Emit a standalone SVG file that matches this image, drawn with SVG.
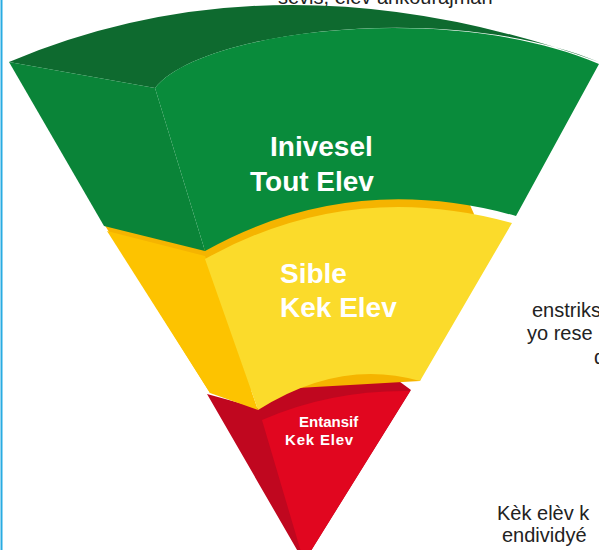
<svg xmlns="http://www.w3.org/2000/svg" width="599" height="550" viewBox="0 0 599 550">
<style>
.lbl{font-family:"Liberation Sans",Arial,sans-serif;font-weight:bold;fill:#ffffff}
.side{font-family:"Liberation Sans",Arial,sans-serif;font-size:20px;fill:#222222}
</style>
<rect width="599" height="550" fill="#ffffff"/>
<line x1="1.5" y1="0" x2="1.5" y2="550" stroke="#29abe2" stroke-width="2"/>
<text class="side" x="278" y="4" font-size="22">sèvis, elèv ankourajman</text>
<g id="tier3">
<path d="M207,394 L258,408 Q330,358 392,376 L411,390 L304,562 Z" fill="#c0071f"/>
<path d="M262,420 Q330,390 410,391 L304,562 Z" fill="#e1061f"/>
<text class="lbl" x="299" y="427" font-size="15">Entansif</text>
<text class="lbl" x="285" y="445" font-size="15" letter-spacing="0.8">Kek Elev</text>
</g>
<g id="tier2">
<path d="M104,224 L205,248 Q350,166 470,205 L474,214 L420,381 L210,393 Z" fill="#f5b400"/>
<path d="M107,231 L205,256 L258,410 L210,393 Z" fill="#fdc300"/>
<path d="M205,259 Q350,178 512,223 L420,381 Q340,358 258,410 Z" fill="#fbdb2b"/>
<text class="lbl" x="280" y="283" font-size="28">Sible</text>
<text class="lbl" x="280" y="317" font-size="28">Kek Elev</text>
</g>
<g id="tier1">
<path d="M9,62 Q280,-52 599,62 C450,0 200,30 155,88 Z" fill="#0e6a2f"/>
<path d="M9,62 L155,88 L205,251 L104,226 Z" fill="#0a8438"/>
<path d="M155,88 C200,30 450,0 599,64 L516,216 Q350,170 205,251 Z" fill="#098b3b"/>
<text class="lbl" x="270" y="156" font-size="28">Inivesel</text>
<text class="lbl" x="250" y="191" font-size="28">Tout Elev</text>
</g>
<text class="side" x="532" y="317">enstriks</text>
<text class="side" x="527" y="340">yo rese</text>
<text class="side" x="594" y="364">d</text>
<text class="side" x="497" y="520">Kèk elèv k</text>
<text class="side" x="502" y="542">endividyé</text>
</svg>
